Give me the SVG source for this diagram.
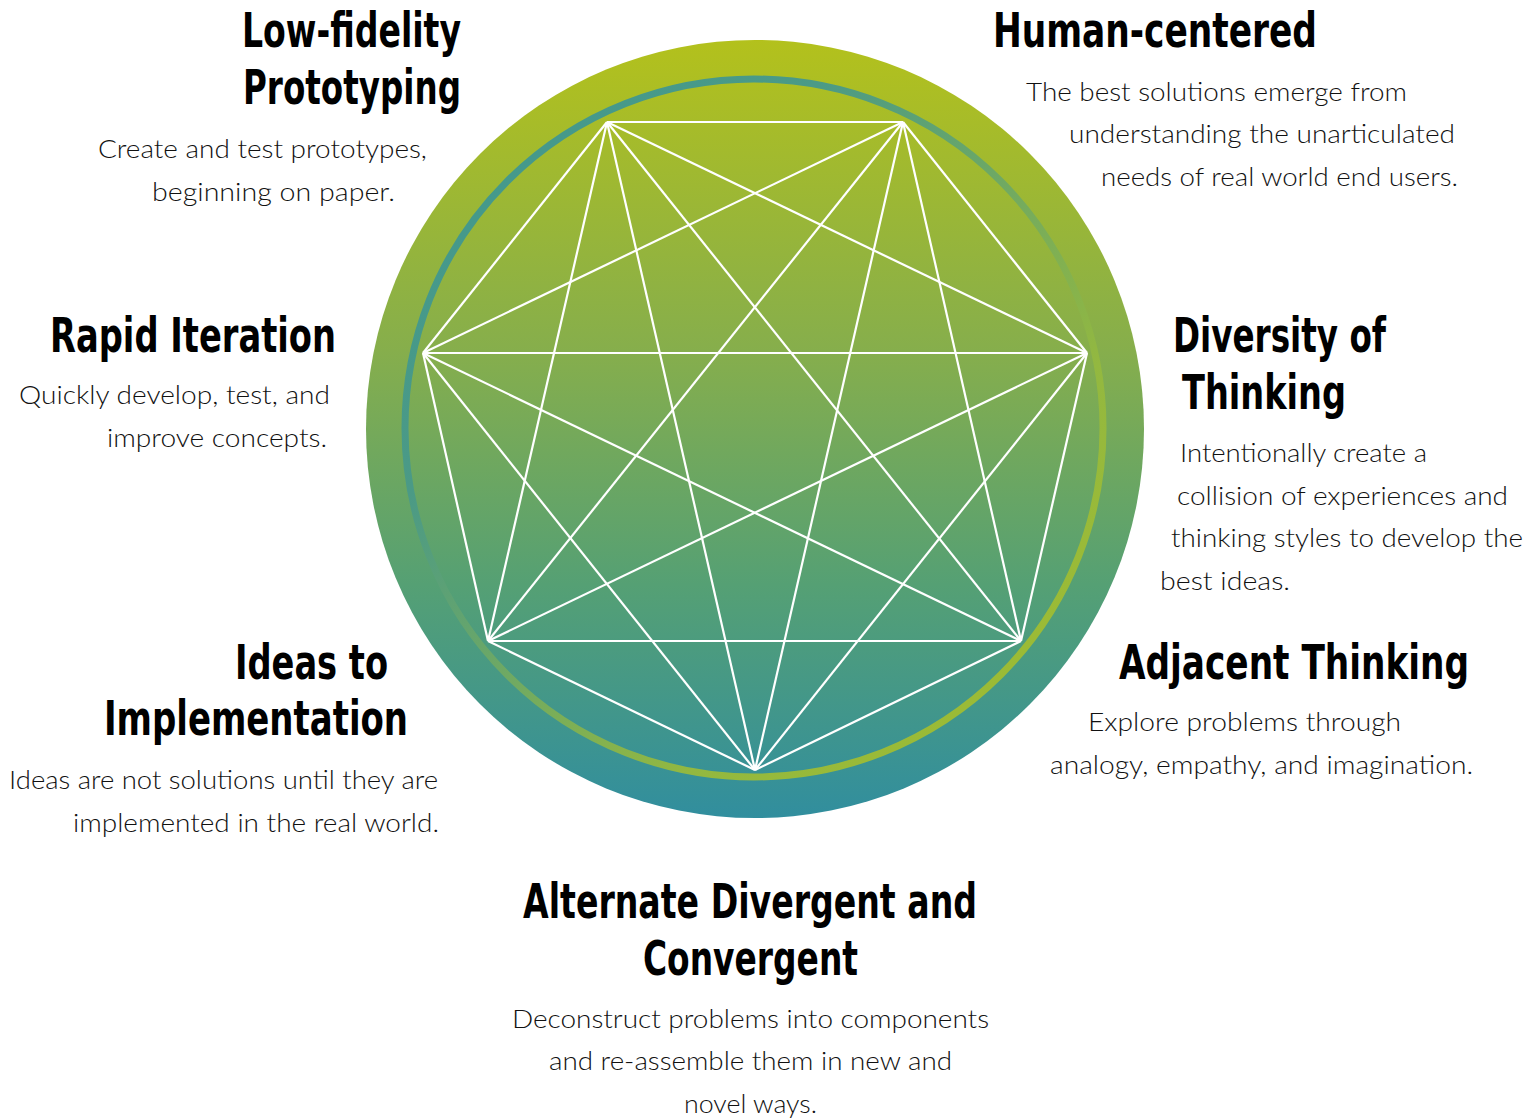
<svg xmlns="http://www.w3.org/2000/svg" width="1540" height="1120" viewBox="0 0 1540 1120">
<defs>
<linearGradient id="disc" x1="0" y1="0" x2="0" y2="1">
<stop offset="0" stop-color="#b3c11c"/>
<stop offset="0.4" stop-color="#86ae4c"/>
<stop offset="0.7" stop-color="#55a074"/>
<stop offset="1" stop-color="#318e9e"/>
</linearGradient>
<linearGradient id="ring" x1="0" y1="0" x2="1" y2="1">
<stop offset="0" stop-color="#3f9890"/>
<stop offset="0.3" stop-color="#4b9a86"/>
<stop offset="0.7" stop-color="#93b840"/>
<stop offset="1" stop-color="#a3bd2c"/>
</linearGradient>
<style>
.t{font-family:"Liberation Sans Narrow","DejaVu Sans Condensed","Liberation Sans",sans-serif;font-weight:bold;font-stretch:condensed;font-size:48px;fill:#000}
.b{font-family:Lato,"Open Sans","Liberation Sans",sans-serif;font-weight:300;font-size:25px;fill:#111}
.c line{stroke:#fff;stroke-width:2.2}
</style>
</defs>
<rect width="1540" height="1120" fill="#fff"/>
<g id="wheel">
<circle cx="755" cy="429" r="389" fill="url(#disc)"/>
<circle cx="754" cy="428" r="349" fill="none" stroke="url(#ring)" stroke-width="7"/>
</g>
<g id="connectors" class="c">
<line x1="607" y1="122" x2="903" y2="122"/>
<line x1="607" y1="122" x2="1087" y2="353"/>
<line x1="607" y1="122" x2="1021" y2="641"/>
<line x1="607" y1="122" x2="755" y2="770"/>
<line x1="607" y1="122" x2="488" y2="641"/>
<line x1="607" y1="122" x2="423" y2="353"/>
<line x1="903" y1="122" x2="1087" y2="353"/>
<line x1="903" y1="122" x2="1021" y2="641"/>
<line x1="903" y1="122" x2="755" y2="770"/>
<line x1="903" y1="122" x2="488" y2="641"/>
<line x1="903" y1="122" x2="423" y2="353"/>
<line x1="1087" y1="353" x2="1021" y2="641"/>
<line x1="1087" y1="353" x2="755" y2="770"/>
<line x1="1087" y1="353" x2="488" y2="641"/>
<line x1="1087" y1="353" x2="423" y2="353"/>
<line x1="1021" y1="641" x2="755" y2="770"/>
<line x1="1021" y1="641" x2="488" y2="641"/>
<line x1="1021" y1="641" x2="423" y2="353"/>
<line x1="755" y1="770" x2="488" y2="641"/>
<line x1="755" y1="770" x2="423" y2="353"/>
<line x1="488" y1="641" x2="423" y2="353"/>
</g>
<g id="low-fidelity">
<text class="t" x="242" y="47" textLength="219" lengthAdjust="spacingAndGlyphs">Low-fidelity</text>
<text class="t" x="243" y="104" textLength="218" lengthAdjust="spacingAndGlyphs">Prototyping</text>
<text class="b" x="98" y="158" textLength="329" lengthAdjust="spacingAndGlyphs">Create and test prototypes,</text>
<text class="b" x="152" y="201" textLength="243" lengthAdjust="spacingAndGlyphs">beginning on paper.</text>
</g>
<g id="human-centered">
<text class="t" x="993" y="47" textLength="324" lengthAdjust="spacingAndGlyphs">Human-centered</text>
<text class="b" x="1026" y="101" textLength="381" lengthAdjust="spacingAndGlyphs">The best solutions emerge from</text>
<text class="b" x="1069" y="143" textLength="386" lengthAdjust="spacingAndGlyphs">understanding the unarticulated</text>
<text class="b" x="1101" y="186" textLength="357" lengthAdjust="spacingAndGlyphs">needs of real world end users.</text>
</g>
<g id="rapid-iteration">
<text class="t" x="50" y="352" textLength="286" lengthAdjust="spacingAndGlyphs">Rapid Iteration</text>
<text class="b" x="19" y="404" textLength="311" lengthAdjust="spacingAndGlyphs">Quickly develop, test, and</text>
<text class="b" x="107" y="447" textLength="220" lengthAdjust="spacingAndGlyphs">improve concepts.</text>
</g>
<g id="diversity">
<text class="t" x="1173" y="352" textLength="213" lengthAdjust="spacingAndGlyphs">Diversity of</text>
<text class="t" x="1182" y="409" textLength="164" lengthAdjust="spacingAndGlyphs">Thinking</text>
<text class="b" x="1180" y="462" textLength="247" lengthAdjust="spacingAndGlyphs">Intentionally create a</text>
<text class="b" x="1177" y="505" textLength="331" lengthAdjust="spacingAndGlyphs">collision of experiences and</text>
<text class="b" x="1171" y="547" textLength="352" lengthAdjust="spacingAndGlyphs">thinking styles to develop the</text>
<text class="b" x="1160" y="590" textLength="130" lengthAdjust="spacingAndGlyphs">best ideas.</text>
</g>
<g id="ideas-to-implementation">
<text class="t" x="235" y="679" textLength="153" lengthAdjust="spacingAndGlyphs">Ideas to</text>
<text class="t" x="104" y="735" textLength="304" lengthAdjust="spacingAndGlyphs">Implementation</text>
<text class="b" x="9" y="789" textLength="429" lengthAdjust="spacingAndGlyphs">Ideas are not solutions until they are</text>
<text class="b" x="73" y="832" textLength="366" lengthAdjust="spacingAndGlyphs">implemented in the real world.</text>
</g>
<g id="adjacent-thinking">
<text class="t" x="1469" y="679" text-anchor="end" textLength="350" lengthAdjust="spacingAndGlyphs">Adjacent Thinking</text>
<text class="b" x="1088" y="731" textLength="313" lengthAdjust="spacingAndGlyphs">Explore problems through</text>
<text class="b" x="1050" y="774" textLength="423" lengthAdjust="spacingAndGlyphs">analogy, empathy, and imagination.</text>
</g>
<g id="divergent-convergent">
<text class="t" x="523" y="918" textLength="454" lengthAdjust="spacingAndGlyphs">Alternate Divergent and</text>
<text class="t" x="643" y="975" textLength="215" lengthAdjust="spacingAndGlyphs">Convergent</text>
<text class="b" x="512" y="1028" textLength="477" lengthAdjust="spacingAndGlyphs">Deconstruct problems into components</text>
<text class="b" x="549" y="1070" textLength="403" lengthAdjust="spacingAndGlyphs">and re-assemble them in new and</text>
<text class="b" x="684" y="1113" textLength="133" lengthAdjust="spacingAndGlyphs">novel ways.</text>
</g>
</svg>
